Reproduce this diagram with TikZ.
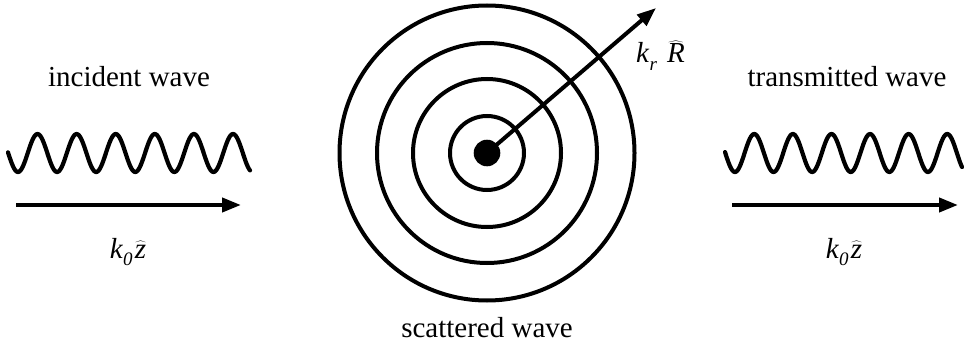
\documentclass[tikz,border=0pt]{standalone}
\usepackage{fontspec}
\setmainfont{Liberation Serif}
\newfontfamily\tnr{Liberation Serif}
\usetikzlibrary{arrows.meta}
\newcommand{\kzero}{\textit{k}\raisebox{-0.6ex}{\fontsize{19}{20}\selectfont\textit{0}}\kern0.08em$\widehat{\textit{z}}$}
\newcommand{\krR}{\textit{k}\raisebox{-0.6ex}{\fontsize{19}{20}\selectfont\textit{r}}\kern0.35em$\widehat{\textit{R}}$}
\begin{document}
\begin{tikzpicture}[x=1pt,y=-1pt,
  wave/.style={line width=4.2pt, line cap=round, line join=round},
  arr/.style={line width=4pt, -{Triangle[length=19pt,width=14pt]}},
  lbl/.style={font=\tnr\fontsize{29}{34}\selectfont, inner sep=0pt},
  ring/.style={line width=4pt}]
\useasboundingbox (0,0) rectangle (964,345);
% left
\node[lbl, anchor=base] (inc) at (129,86) {incident wave};
\draw[wave] plot[domain=8:250, samples=240] (\x, {153 + 19*sin(9.2072*(\x-8.2))});
\coordinate (la) at (16,205);
\coordinate (lb) at (241,205);
\draw[arr] (la) -- (lb);
\node[lbl, anchor=base] (k0l) at (128,258) {\kzero};
% right
\node[lbl, anchor=base] (tra) at (847,86) {transmitted wave};
\draw[wave] plot[domain=725:962, samples=240] (\x, {153 + 19*sin(9.3264*(\x-725.3))});
\coordinate (ra) at (732,205);
\coordinate (rb) at (958,205);
\draw[arr] (ra) -- (rb);
\node[lbl, anchor=base] (k0r) at (844,258) {\kzero};
% center
\coordinate (c) at (487,153);
\draw[ring] (c) circle[radius=147.5];
\draw[ring] (c) circle[radius=110];
\draw[ring] (c) circle[radius=74];
\draw[ring] (c) circle[radius=37];
\fill (c) circle[radius=13.3];
\coordinate (tip) at (656,8);
\draw[arr] (c) -- (tip);
\node[lbl, anchor=base west] (kr) at (636,63) {\krR};
\node[lbl, anchor=base] (sca) at (487,337) {scattered wave};
\end{tikzpicture}
\end{document}
